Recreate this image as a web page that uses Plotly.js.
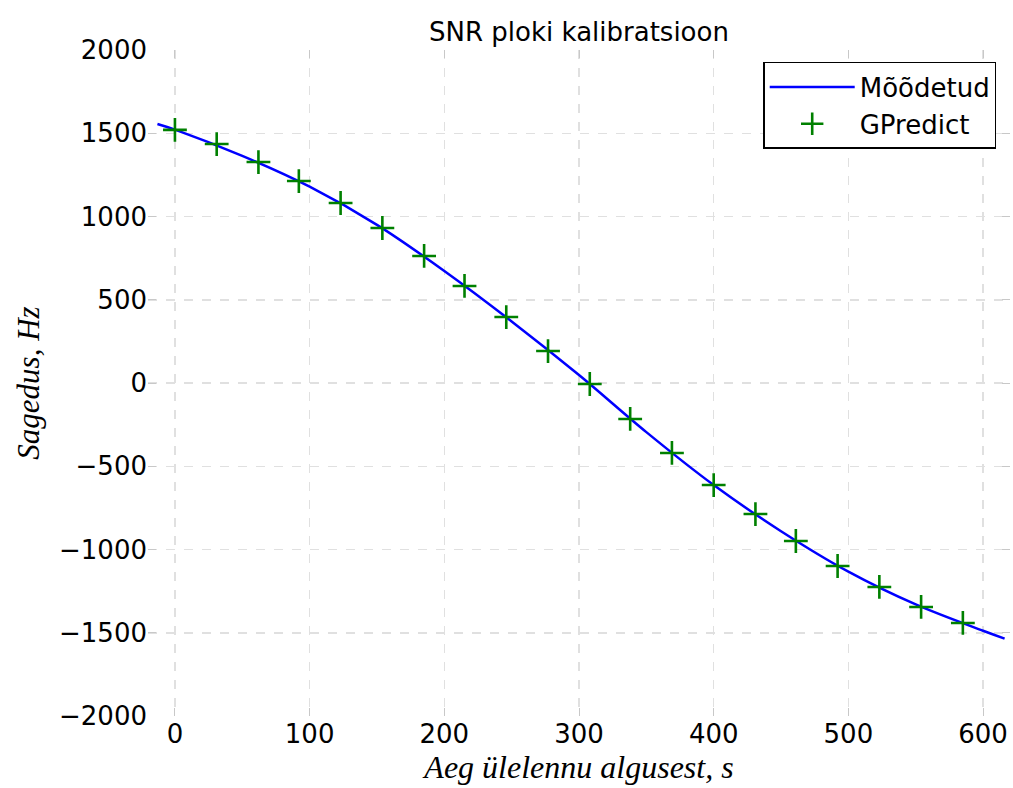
<!DOCTYPE html>
<html>
<head>
<meta charset="utf-8">
<script src="https://cdn.plot.ly/plotly-3.0.1.min.js"></script>
<style>html,body{margin:0;padding:0;background:#fff;}#chart{width:1013px;height:788px;}</style>
</head>
<body>
<div id="chart"></div>
<script>
// Measured curve (Mõõdetud)
const measuredTime = [-13, 0, 50, 100, 150, 200, 250, 300, 350, 400, 450, 500, 550, 600, 616];
const measuredFreq = [1556, 1522, 1364, 1179, 950, 673, 370, 48, -295, -613, -890, -1133, -1330, -1488, -1535];
// GPredict points
const predictTime = [0, 31, 62, 92, 123, 154, 185, 215, 246, 277, 308, 338, 369, 400, 431, 461, 492, 523, 554, 585];
const predictFreq = [1520, 1435, 1327, 1213, 1081, 931, 763, 583, 396, 192, -6, -216, -420, -613, -787, -949, -1099, -1225, -1345, -1441];
const xTicks = [0, 100, 200, 300, 400, 500, 600];
const yTicks = [-2000, -1500, -1000, -500, 0, 500, 1000, 1500, 2000];
const yTickText = ['\u22122000', '\u22121500', '\u22121000', '\u2212500', '0', '500', '1000', '1500', '2000'];

const traces = [
  {x: measuredTime, y: measuredFreq, mode: 'lines', name: 'Mõõdetud',
   line: {color: '#0000ff', width: 2.5, shape: 'spline', smoothing: 1}},
  {x: predictTime, y: predictFreq, mode: 'markers', name: 'GPredict',
   marker: {symbol: 'cross-thin', size: 17, color: '#008000', line: {color: '#008000', width: 2.6}}}
];

const axisCommon = {
  showline: false, zeroline: false,
  showgrid: true, gridcolor: '#e0e0e0', griddash: 'dash', gridwidth: 1.5,
  ticks: 'inside', ticklen: 8, tickwidth: 1, tickcolor: '#c8c8c8', mirror: 'ticks',
  tickfont: {family: 'DejaVu Sans', size: 26, color: '#000'}
};

const layout = {
  width: 1013, height: 788,
  paper_bgcolor: '#fff', plot_bgcolor: '#fff',
  margin: {l: 148, r: 3, t: 50, b: 72},
  title: {text: 'SNR ploki kalibratsioon', font: {family: 'DejaVu Sans', size: 26, color: '#000'},
          x: 0.5, xref: 'paper', xanchor: 'center', y: 0.96, yanchor: 'middle'},
  xaxis: Object.assign({}, axisCommon, {
    range: [-20, 620], tickvals: xTicks, ticktext: xTicks.map(String),
    title: {text: '<i>Aeg ülelennu algusest, s</i>', standoff: 2,
            font: {family: 'Liberation Serif', size: 32, color: '#000'}}
  }),
  yaxis: Object.assign({}, axisCommon, {
    range: [-2000, 2000], tickvals: yTicks, ticktext: yTickText,
    title: {text: '<i>Sagedus, Hz</i>', standoff: 10,
            font: {family: 'Liberation Serif', size: 31, color: '#000'}}
  }),
  showlegend: true,
  legend: {x: 0.984, xanchor: 'right', y: 0.982, yanchor: 'top',
           bgcolor: '#fff', bordercolor: '#000', borderwidth: 1.5,
           font: {family: 'DejaVu Sans', size: 26, color: '#000'},
           itemwidth: 85, tracegroupgap: 6}
};

Plotly.newPlot('chart', traces, layout, {displayModeBar: false, staticPlot: true});
</script>
</body>
</html>
